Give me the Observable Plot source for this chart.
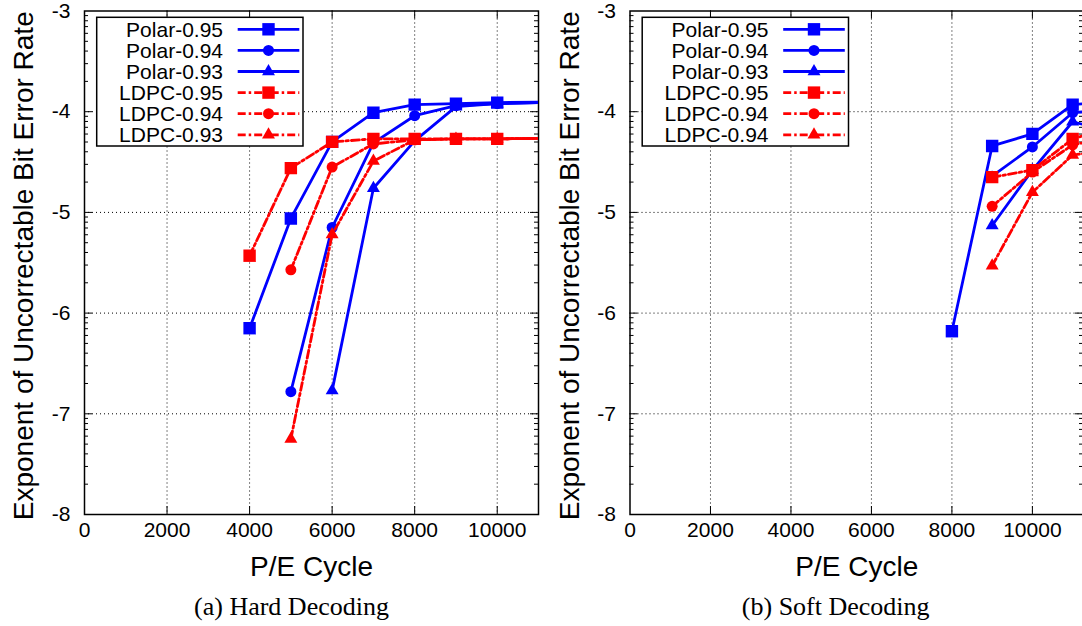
<!DOCTYPE html>
<html><head><meta charset="utf-8">
<script src="https://cdn.jsdelivr.net/npm/d3@7"></script>
<script src="https://cdn.jsdelivr.net/npm/@observablehq/plot@0.6"></script>
<style>
body{margin:0;background:#fff;}
#wrap{position:relative;width:1082px;height:626px;overflow:hidden;background:#fff;}
.panel{position:absolute;top:0;width:541px;height:590px;}
.cap{position:absolute;top:584px;width:300px;text-align:center;font-family:"Liberation Serif","Times New Roman",serif;font-size:26px;line-height:45px;white-space:nowrap;color:#000;}
</style></head><body>
<div id="wrap">
 <div class="panel" id="hard" style="left:0"></div>
 <div class="panel" id="soft" style="left:541px"></div>
 <div class="cap" style="left:141.5px">(a) Hard Decoding</div>
 <div class="cap" style="left:685.7px">(b) Soft Decoding</div>
</div>
<script>
// ---------- data ----------
const hardLegendLabels = ["Polar-0.95","Polar-0.94","Polar-0.93","LDPC-0.95","LDPC-0.94","LDPC-0.93"];
const softLegendLabels = ["Polar-0.95","Polar-0.94","Polar-0.93","LDPC-0.95","LDPC-0.94","LDPC-0.94"];
const seriesColors  = ["#0000ff","#0000ff","#0000ff","#ff0000","#ff0000","#ff0000"];
const seriesSymbols = ["square","circle","triangle","square","circle","triangle"];
const seriesDashed  = [false,false,false,true,true,true];

// [P/E cycle, exponent]
const hardPolar95 = [[4000,-6.15],[5000,-5.06],[6000,-4.30],[7000,-4.01],[8000,-3.93],[9000,-3.92],[10000,-3.91],[12000,-3.90]];
const hardPolar94 = [[5000,-6.78],[6000,-5.15],[7000,-4.31],[8000,-4.04],[9000,-3.94],[10000,-3.92],[12000,-3.90]];
const hardPolar93 = [[6000,-6.77],[7000,-4.76],[8000,-4.29],[9000,-3.95],[10000,-3.92],[12000,-3.90]];
const hardLDPC95  = [[4000,-5.43],[5000,-4.56],[6000,-4.30],[7000,-4.27],[8000,-4.27],[9000,-4.27],[10000,-4.27],[12000,-4.26]];
const hardLDPC94  = [[5000,-5.57],[6000,-4.55],[7000,-4.32],[8000,-4.28],[9000,-4.27],[10000,-4.27],[12000,-4.26]];
const hardLDPC93  = [[5000,-7.25],[6000,-5.22],[7000,-4.49],[8000,-4.28],[9000,-4.27],[10000,-4.27],[12000,-4.26]];

const softPolar95 = [[8000,-6.18],[9000,-4.34],[10000,-4.22],[11000,-3.93],[12000,-3.90]];
const softPolar94 = [[9000,-4.64],[10000,-4.35],[11000,-4.01],[12000,-3.98]];
const softPolar93 = [[9000,-5.13],[10000,-4.58],[11000,-4.10],[12000,-4.20]];
const softLDPC95  = [[9000,-4.65],[10000,-4.58],[11000,-4.27],[12000,-4.15]];
const softLDPC94  = [[9000,-4.94],[10000,-4.60],[11000,-4.33],[12000,-4.25]];
const softLDPC93  = [[9000,-5.53],[10000,-4.80],[11000,-4.43],[12000,-4.38]];

const xTickValues = [0,2000,4000,6000,8000,10000];
const xGridValues = [2000,4000,6000,8000,10000];
const yTickValues = [-8,-7,-6,-5,-4,-3];
const yGridValues = [-7,-6,-5,-4];
const minorMultipliers = [2,3,4,5,6,7,8,9];
const yMinor = yTickValues.slice(0,-1).flatMap(d => minorMultipliers.map(k => d + Math.log10(k)));

const xLabel = "P/E Cycle";
const yLabel = "Exponent of Uncorrectable Bit Error Rate";

// ---------- drawing ----------
const FONT = '"Liberation Sans", Arial, Helvetica, sans-serif';
const symR = {square: 7, circle: 5.5, triangle: 4.8};
const DASH = "8,3,2.5,3";

function makePanel(el, series, cfg) {
  const W = 541, H = 590, mt = 10.5, mb = 76;
  const pw = W - cfg.ml - cfg.mr, ph = H - mt - mb;
  const k = {stroke: "#000", strokeWidth: 1};
  const marks = [
    Plot.ruleX(xGridValues, {...k, strokeDasharray: "1,3"}),
    Plot.ruleY(yGridValues, {...k, strokeDasharray: "1,3"}),
    Plot.ruleX(xGridValues, {...k, insetTop: ph - 8}),
    Plot.ruleX(xGridValues, {...k, insetBottom: ph - 8}),
    Plot.ruleY(yGridValues, {...k, insetRight: pw - 8}),
    Plot.ruleY(yGridValues, {...k, insetLeft: pw - 8}),
    Plot.ruleY(yMinor, {...k, insetRight: pw - 4}),
    Plot.ruleY(yMinor, {...k, insetLeft: pw - 4}),
    Plot.frame({stroke: "#000", strokeWidth: 1.5})
  ];
  series.forEach((s, i) => {
    marks.push(Plot.line(s, {x: d => d[0], y: d => d[1], stroke: seriesColors[i], strokeWidth: 2.8,
      strokeDasharray: seriesDashed[i] ? DASH : null, strokeLinejoin: "miter", clip: true}));
    marks.push(Plot.dot(s, {x: d => d[0], y: d => d[1], fill: seriesColors[i], stroke: "none",
      symbol: seriesSymbols[i], r: symR[seriesSymbols[i]], clip: true}));
  });
  marks.push(Plot.text([xLabel], {text: d => d, frameAnchor: "bottom", textAnchor: "middle", dy: 61, fontSize: 28, fill: "#000"}));
  marks.push(Plot.text([yLabel], {text: d => d, frameAnchor: "left", textAnchor: "middle", rotate: -90, dx: -60, dy: 3, fontSize: 28, fill: "#000"}));
  const p = Plot.plot({
    width: W, height: H,
    marginLeft: cfg.ml, marginRight: cfg.mr, marginTop: mt, marginBottom: mb,
    style: {fontFamily: FONT, fontSize: "21px", color: "#000", background: "transparent", overflow: "visible"},
    x: {domain: [0, cfg.xMax], ticks: xTickValues, tickSize: 0, tickPadding: 8, tickFormat: d => String(d), label: null},
    y: {domain: [-8, -3], ticks: yTickValues, tickSize: 0, tickPadding: 14, tickFormat: d => String(d), label: null},
    marks
  });
  el.appendChild(p);
}

makePanel(document.getElementById("hard"),
  [hardPolar95, hardPolar94, hardPolar93, hardLDPC95, hardLDPC94, hardLDPC93],
  {ml: 84, mr: 3, xMax: 11000});
makePanel(document.getElementById("soft"),
  [softPolar95, softPolar94, softPolar93, softLDPC95, softLDPC94, softLDPC93],
  {ml: 88.5, mr: -1, xMax: 11270});

// legends (inside the plots)
const leg = d3.select("#wrap").append("svg")
  .attr("width", 1082).attr("height", 590)
  .style("position", "absolute").style("left", "0px").style("top", "0px");
function drawLegend(ox, labels) {
  leg.append("rect").attr("x", 96.7 + ox).attr("y", 17.3).attr("width", 206.3).attr("height", 128.7)
    .attr("fill", "#fff").attr("stroke", "#000").attr("stroke-width", 1.5);
  labels.forEach((lab, i) => {
    const y = 29.3 + i * 21.1;
    leg.append("text").attr("x", 223 + ox).attr("y", y).attr("dy", "0.35em")
      .attr("text-anchor", "end").attr("font-family", FONT).attr("font-size", 21).attr("fill", "#000").text(lab);
    leg.append("line").attr("x1", 237.7 + ox).attr("x2", 299.3 + ox).attr("y1", y).attr("y2", y)
      .attr("stroke", seriesColors[i]).attr("stroke-width", 2.8)
      .attr("stroke-dasharray", seriesDashed[i] ? DASH : null);
    const sym = {square: d3.symbolSquare, circle: d3.symbolCircle, triangle: d3.symbolTriangle}[seriesSymbols[i]];
    const r = symR[seriesSymbols[i]];
    leg.append("path").attr("d", d3.symbol(sym, Math.PI * r * r)())
      .attr("transform", `translate(${268.5 + ox},${y})`).attr("fill", seriesColors[i]);
  });
}
drawLegend(0, hardLegendLabels);
drawLegend(545.5, softLegendLabels);
</script>
</body></html>
